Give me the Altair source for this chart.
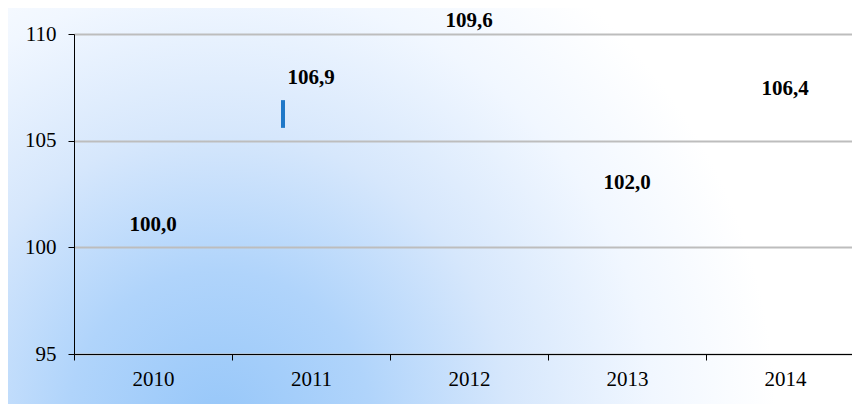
import altair as alt
import pandas as pd

years = ["2010", "2011", "2012", "2013", "2014"]
values = [100.0, 106.9, 109.6, 102.0, 106.4]
marker_year = ["2011"]
marker_low = [105.6]
marker_high = [106.9]
y_ticks = [95, 100, 105, 110]

df = pd.DataFrame({"year": years, "value": values})
df["label"] = [f"{v:.1f}".replace(".", ",") for v in values]
mk = pd.DataFrame({"year": marker_year, "lo": marker_low, "hi": marker_high})
bg = pd.DataFrame({"a": [0]})

FONT = "Liberation Serif"
FS = 21
W_PLOT = 778
H_PLOT = 320
PAD = {"left": 66, "top": 26, "right": 0, "bottom": 50}
BG_SIZE = W_PLOT + PAD["left"] + PAD["right"]  # square background, clipped by canvas

xscale = alt.Scale(domain=years, range=[0, 790], paddingInner=0, paddingOuter=0)
yscale = alt.Scale(domain=[95, 110], nice=False, zero=False)

xaxis = alt.Axis(title=None, tickBand="extent", grid=False, domainColor="#000000",
                 tickColor="#000000", tickSize=6, labelFont=FONT, labelFontSize=FS,
                 labelColor="#000000", labelPadding=8, labelAngle=0, zindex=1)
yaxis = alt.Axis(title=None, values=y_ticks, grid=True, gridColor="#bdbdbd", gridWidth=2,
                 domainColor="#000000", tickColor="#000000", tickSize=6,
                 labelFont=FONT, labelFontSize=FS, labelColor="#000000",
                 labelPadding=12, zindex=1)

gradient = alt.RadialGradient(
    gradient="radial",
    x1=0.25, y1=0.49, r1=0,
    x2=0.25, y2=0.49, r2=0.66,
    stops=[
        alt.GradientStop(color="#97c7f9", offset=0),
        alt.GradientStop(color="#b0d4fb", offset=0.27),
        alt.GradientStop(color="#d6e7fc", offset=0.52),
        alt.GradientStop(color="#f1f7ff", offset=0.78),
        alt.GradientStop(color="#ffffff", offset=1),
    ],
)

background = alt.Chart(bg).mark_rect(fill=gradient, stroke=None).encode(
    x=alt.value(-PAD["left"]), x2=alt.value(W_PLOT + PAD["right"]),
    y=alt.value(-PAD["top"]), y2=alt.value(BG_SIZE - PAD["top"]),
)

marker = alt.Chart(mk).mark_rule(color="#1f78c8", strokeWidth=4, xOffset=-28).encode(
    x=alt.X("year:N", sort=years, scale=xscale, axis=xaxis),
    y=alt.Y("lo:Q", scale=yscale, axis=yaxis),
    y2="hi:Q",
)

labels = alt.Chart(df).mark_text(font=FONT, fontSize=FS, fontWeight="bold",
                                 color="#000000", dy=-22, baseline="middle").encode(
    x=alt.X("year:N", sort=years, scale=xscale, axis=xaxis),
    y=alt.Y("value:Q", scale=yscale, axis=yaxis),
    text="label:N",
)

chart = alt.layer(background, marker, labels).properties(
    width=W_PLOT, height=H_PLOT,
    autosize=alt.AutoSizeParams(type="none"),
    padding=PAD,
).configure_view(stroke=None)

chart.save("out.html", embed_options={"renderer": "svg", "actions": False})
